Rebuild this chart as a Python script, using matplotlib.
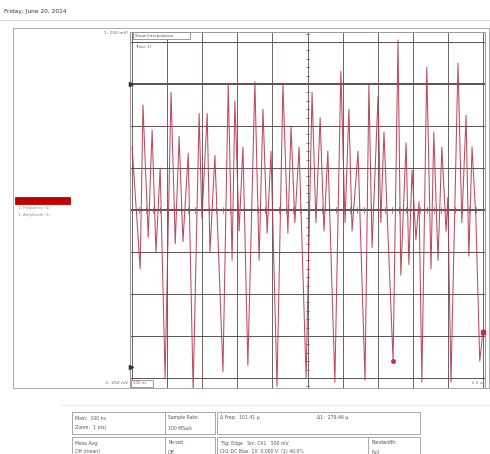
import matplotlib
matplotlib.use("Agg")
import matplotlib.pyplot as plt
from matplotlib.patches import Rectangle
from matplotlib.lines import Line2D

W, H = 490, 454

# trace extrema: time (ns) and level (mV), 250 mV/div, 100 ns/div
t_ns = [-500, -477, -469, -454, -443, -432, -420, -406, -389, -377, -366, -355, -340,
        -326, -309, -301, -286, -278, -264, -241, -226, -215, -207, -195, -184,
        -170, -150, -138, -127, -115, -104, -87, -70, -56, -47, -36, -24,
        -4, 13, 24, 36, 47, 58, 78, 95, 107, 118, 127, 144,
        164, 175, 184, 201, 209, 218, 229, 244, 258, 266, 281, 289, 298, 309, 318,
        326, 340, 352, 360, 372, 383, 395, 400, 409, 429, 440, 452, 460, 469, 480,
        491, 500]
v_mv = [375, -350, 625, -163, 475, -250, 250, -1000, 700, -200, 438, -188, 338,
        -1075, 575, -50, 575, -250, 325, -963, 750, -300, 650, -125, 375,
        -925, 763, -300, 600, -138, 350, -1050, 750, -138, 500, -75, 375,
        -1000, 700, -75, 550, -125, 350, -1025, 825, -75, 600, -125, 350,
        -1013, 750, -225, 675, -75, 463, -125, -900, 1013, -388, 400, -325, 238, -175, 50,
        -1025, 850, -350, 463, -300, 375, -125, 75, -1025, 875, -75, 563, -275, 375, -50,
        -900, -725]

x_grid = [-500, -400, -300, -200, -100, 0, 100, 200, 300, 400, 500]
y_grid = [-1000, -750, -500, -250, 0, 250, 500, 750, 1000]
y_bold = [750, 0]


def fx(x):
    return x / W


def fy(y):
    return 1 - y / H


fig = plt.figure(figsize=(W / 100, H / 100), dpi=100)
fig.patch.set_facecolor("white")


def ftext(x, y, s, size=3.3, color="#555555", **kw):
    fig.text(fx(x), fy(y), s, fontsize=size, color=color, va="center", **kw)


def fline(x0, y0, x1, y1, color="#9a9a9a", lw=0.6):
    fig.add_artist(Line2D([fx(x0), fx(x1)], [fy(y0), fy(y1)], color=color, lw=lw,
                          transform=fig.transFigure))


def fbox(x0, y0, x1, y1, ec="#9a9a9a", fc="none", lw=0.6):
    fig.add_artist(Rectangle((fx(x0), fy(y1)), fx(x1) - fx(x0), fy(y0) - fy(y1),
                             transform=fig.transFigure, ec=ec, fc=fc, lw=lw))


# header
ftext(4, 12, "Friday, June 20, 2014", size=4.2, color="#333333")
fline(0, 20, 490, 20, color="#cfcfcf", lw=0.6)
fbox(13, 28, 489, 388, ec="#a8a8a8", lw=0.7)

# left panel: measurement legend
fbox(15, 197, 70, 204, ec="#c00000", fc="#c00000")
ftext(18, 208.5, "1: Frequency (1)", size=2.8, color="#8a8a8a")
ftext(18, 215, "1: Amplitude (1)", size=2.8, color="#8a8a8a")
ftext(128, 33, "1: 250 mV/", size=3.2, color="#666666", ha="right")
ftext(128, 383, "-1: 250 mV", size=3.2, color="#666666", ha="right")

# scope screen
ax = fig.add_axes([fx(130), fy(388), fx(485) - fx(130), fy(32) - fy(388)])
ax.set_xlim(-506, 506)
ax.set_ylim(-1060, 1060)
for x in x_grid:
    ax.axvline(x, color="#6d6262", lw=0.7, zorder=1)
for y in y_grid:
    ax.axhline(y, color="#5e5050", lw=1.4 if y in y_bold else 0.7, zorder=1)
for k in range(-21, 22):
    ax.plot([-5, 5], [k * 50, k * 50], color="#6d6262", lw=0.5, zorder=1)
for k in range(-25, 26):
    ax.plot([k * 20, k * 20], [-18, 18], color="#6d6262", lw=0.5, zorder=1)

ax.plot(t_ns, v_mv, color="#b5374a", lw=0.75, alpha=0.9, zorder=3)
ax.plot([244], [-900], "o", color="#c0304a", ms=2.5, zorder=4)
ax.plot([500], [-725], "s", color="#c0304a", ms=3.5, zorder=4, clip_on=False)
ax.plot([-503], [750], ">", color="#333333", ms=3, zorder=4, clip_on=False)
ax.plot([-503], [-935], ">", color="#333333", ms=3, zorder=4, clip_on=False)

ax.set_xticks([])
ax.set_yticks([])
for s in ax.spines.values():
    s.set_color("#9a9a9a")
    s.set_linewidth(0.7)

fbox(133, 32, 190, 39, ec="#8a8a8a", fc="white")
ftext(135, 35.5, "Show Interpolation", size=2.9, color="#555555")
ftext(135, 47, "Trace 1?", size=2.9, color="#555555")
fbox(131, 380, 153, 387, ec="#8a8a8a", fc="white")
ftext(133, 383.5, "100 ns", size=2.9, color="#c04050")
ftext(484, 383, "5.0 us", size=2.9, color="#777777", ha="right")

# bottom status table
fline(60, 405, 490, 405, color="#e6e6e6", lw=0.5)
fbox(72, 412, 215, 434)
fline(165, 412, 165, 434)
fbox(217, 412, 420, 434)
fbox(72, 437, 215, 456)
fline(165, 437, 165, 456)
fbox(217, 437, 420, 456)
fline(368, 437, 368, 456)
ftext(75, 418, "Main:  100 ns")
ftext(75, 428, "Zoom:  1 (ns)")
ftext(168, 418, "Sample Rate:")
ftext(168, 428, "100 MSa/s")
ftext(220, 418, "Δ Freq:  101.41 µ")
ftext(317, 418, "Δ1:  279.46 µ")
ftext(75, 443, "Meas Avg:")
ftext(75, 452, "Off (mean)")
ftext(168, 443, "Persist:")
ftext(168, 452, "Off")
ftext(220, 443, "Trig: Edge   Src: Ch1   500 mV")
ftext(220, 452, "Ch1 DC Bias  1X  0.000 V  (1) 40.0%")
ftext(371, 443, "Bandwidth:")
ftext(371, 452, "Full")

fig.savefig("out.png", dpi=100)
